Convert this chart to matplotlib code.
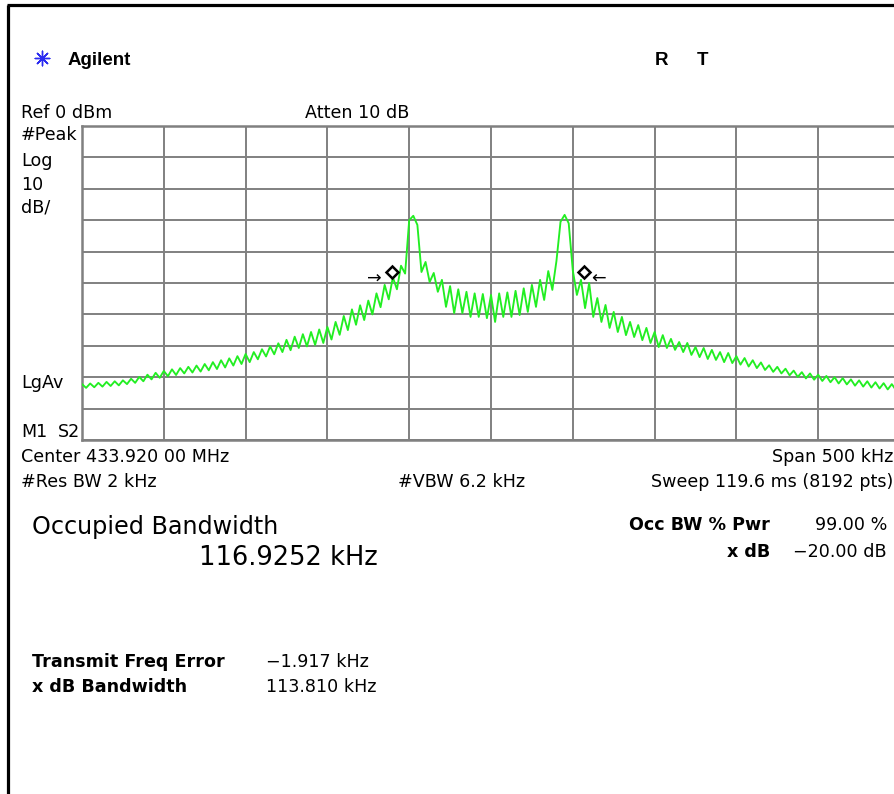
import numpy as np
import matplotlib
matplotlib.use("Agg")
import matplotlib.pyplot as plt

# analyzer settings
center_mhz = 433.920
span_khz = 500.0
ref_dbm = 0.0
db_per_div = 10.0

# measured results
occ_bw_khz = 116.9252
freq_error_khz = -1.917
xdb_bw_khz = 113.810
marker_level_db = -46.5

# trace, one value per 2.5 kHz display point
trace_db = [
    -82.2, -83.4, -82.0, -83.2, -81.8, -83.0, -81.5, -82.8, -81.3, -82.6,
    -81.0, -82.2, -80.5, -81.8, -79.9, -81.3, -79.2, -80.7, -78.6, -80.2,
    -78.0, -79.7, -77.5, -79.3, -77.1, -78.8, -76.7, -78.5, -76.3, -78.2,
    -75.8, -77.8, -75.2, -77.4, -74.6, -76.9, -74.0, -76.3, -73.3, -75.8,
    -72.6, -75.2, -72.0, -74.3, -71.1, -73.4, -70.2, -72.7, -69.2, -72.0,
    -68.1, -71.4, -67.1, -70.7, -66.3, -70.2, -65.6, -69.7, -64.8, -69.1,
    -64.0, -68.0, -62.4, -66.5, -60.5, -65.0, -58.4, -63.3, -57.1, -61.8,
    -55.6, -60.0, -53.3, -57.7, -50.6, -55.2, -48.2, -52.0, -44.5, -47.0,
    -30.0, -28.6, -31.5, -46.5, -43.3, -49.7, -46.8, -52.8, -49.0, -57.6,
    -51.0, -59.6, -52.0, -59.6, -52.8, -60.8, -53.3, -60.8, -53.5, -61.2,
    -53.8, -62.4, -53.3, -60.8, -53.0, -60.8, -52.5, -60.2, -51.7, -59.2,
    -50.6, -57.6, -49.0, -55.4, -46.2, -52.2, -43.0, -30.5, -28.3, -31.0,
    -46.0,
    -53.8, -49.0, -58.0, -50.0, -60.8, -54.8, -62.4, -57.0, -64.3,
    -59.2, -65.6, -60.8, -66.6, -62.4, -67.2, -63.4, -68.2, -64.3, -69.1,
    -65.6, -70.4, -66.6, -70.7, -67.8, -71.3, -68.8, -72.0, -69.1, -72.9,
    -70.4, -73.6, -70.7, -74.2, -71.3, -74.5, -72.0, -75.2, -72.3, -75.5,
    -73.3, -76.0, -73.9, -76.6, -74.6, -77.1, -75.3, -77.7, -76.2, -78.3,
    -76.7, -78.8, -77.3, -79.4, -77.9, -79.9, -78.4, -80.4, -78.8, -80.8,
    -79.2, -81.2, -79.6, -81.6, -80.0, -82.0, -80.3, -82.3, -80.7, -82.7,
    -81.0, -83.0, -81.3, -83.3, -81.6, -83.6, -81.9, -83.9, -82.2, -84.1,
    -82.5,
]
freq_khz = np.linspace(-span_khz / 2, span_khz / 2, len(trace_db))

W, H = 895, 794
fig = plt.figure(figsize=(W / 100, H / 100), dpi=100)
fig.patch.set_facecolor("white")

# overlay in screen pixels for the annotation text
bg = fig.add_axes([0, 0, 1, 1])
bg.set_xlim(0, W)
bg.set_ylim(H, 0)
bg.axis("off")

# screenshot frame
bg.plot([7, W], [5, 5], color="black", lw=2.3, solid_capstyle="butt")
bg.plot([8, 8], [5, H], color="black", lw=2.3, solid_capstyle="butt")

# graticule
ax = fig.add_axes([82 / W, 1 - 440 / H, 818 / W, 314 / H])
ax.set_xlim(-span_khz / 2, span_khz / 2)
ax.set_ylim(ref_dbm - 10 * db_per_div, ref_dbm)
ax.set_xticks(np.linspace(-span_khz / 2, span_khz / 2, 11))
ax.set_yticks(np.linspace(ref_dbm - 10 * db_per_div, ref_dbm, 11))
ax.tick_params(length=0, labelbottom=False, labelleft=False)
ax.grid(True, color="#808080", lw=1.4)
ax.set_axisbelow(True)
for s in ax.spines.values():
    s.set_color("#808080")
    s.set_linewidth(1.8)
ax.set_facecolor("none")

ax.plot(freq_khz, trace_db, color="#22ee22", lw=1.35, zorder=3)

# occupied bandwidth markers
obw_lo = freq_error_khz - occ_bw_khz / 2
obw_hi = freq_error_khz + occ_bw_khz / 2
ax.plot([obw_lo, obw_hi], [marker_level_db, marker_level_db], ls="none",
        marker="D", ms=6.6, mfc="white", mec="black", mew=1.8, zorder=4)
ax.annotate("\u2192", xy=(obw_lo, marker_level_db), xytext=(-11, -7),
            textcoords="offset pixels", ha="right", va="center", fontsize=12.6)
ax.annotate("\u2190", xy=(obw_hi, marker_level_db), xytext=(8, -7),
            textcoords="offset pixels", ha="left", va="center", fontsize=12.6)

# header
bg.scatter([42], [58], marker=(8, 2, 0), s=110, color="#2a2af0", lw=1.0)
hdr = dict(family="Liberation Sans", fontweight="bold", fontsize=13.5, va="baseline")
bg.text(68, 65, "Agilent", **hdr)
bg.text(655, 65, "R", **hdr)
bg.text(697, 65, "T", **hdr)

small = dict(family="DejaVu Sans", fontsize=12.6, va="baseline")
bg.text(21, 118, "Ref 0 dBm", **small)
bg.text(305, 118, "Atten 10 dB", **small)
bg.text(21, 140, "#Peak", **small)
bg.text(21, 166, "Log", **small)
bg.text(21, 190, "10", **small)
bg.text(21, 213, "dB/", **small)
bg.text(21, 388, "LgAv", **small)
bg.text(21, 437, "M1", **small)
bg.text(58, 437, "S2", **small)
bg.text(21, 462, f"Center {center_mhz:.3f} 00 MHz", **small)
bg.text(893, 462, f"Span {span_khz:.0f} kHz", ha="right", **small)
bg.text(21, 487, "#Res BW 2 kHz", **small)
bg.text(398, 487, "#VBW 6.2 kHz", **small)
bg.text(893, 487, "Sweep 119.6 ms (8192 pts)", ha="right", **small)

bg.text(32, 534, "Occupied Bandwidth", family="DejaVu Sans", fontsize=17.2, va="baseline")
bg.text(378, 565, f"{occ_bw_khz:.4f} kHz", family="DejaVu Sans", fontsize=18.5,
        va="baseline", ha="right")

bold = dict(family="DejaVu Sans", fontweight="bold", fontsize=12.6, va="baseline")
bg.text(770, 530, "Occ BW % Pwr", ha="right", **bold)
bg.text(770, 557, "x dB", ha="right", **bold)
bg.text(887, 530, "99.00 %", ha="right", **small)
bg.text(887, 557, "\u221220.00 dB", ha="right", **small)

bg.text(32, 667, "Transmit Freq Error", **bold)
bg.text(32, 692, "x dB Bandwidth", **bold)
bg.text(266, 667, f"\u2212{abs(freq_error_khz):.3f} kHz", **small)
bg.text(266, 692, f"{xdb_bw_khz:.3f} kHz", **small)

fig.savefig("out.png", dpi=100)
